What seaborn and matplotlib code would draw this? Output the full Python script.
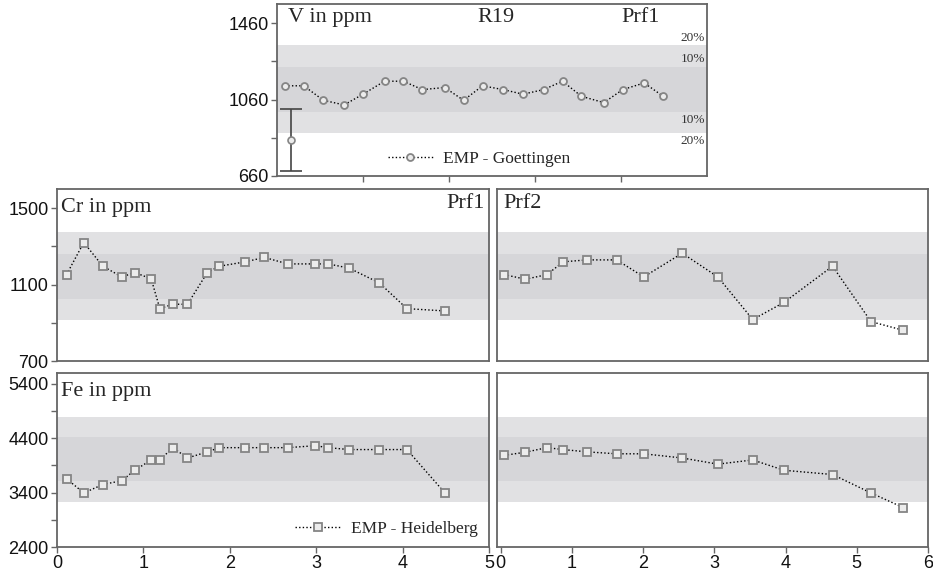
import matplotlib
matplotlib.use("Agg")
import matplotlib.pyplot as plt
import seaborn as sns
import pandas as pd

# ---------------- data ----------------
v_x = [0.09, 0.31, 0.54, 0.78, 1.00, 1.25, 1.47, 1.69, 1.95, 2.17,
       2.39, 2.63, 2.86, 3.10, 3.32, 3.54, 3.80, 4.02, 4.27, 4.49]
v_ppm = [1132, 1132, 1056, 1032, 1088, 1156, 1156, 1112, 1123, 1056,
         1132, 1112, 1088, 1112, 1156, 1077, 1044, 1112, 1147, 1077]
v_err_x = [0.16]
v_err_mid = [846]
v_err_lo = [684]
v_err_hi = [1013]

prf1_x = [0.11, 0.31, 0.53, 0.75, 0.90, 1.09, 1.19, 1.34, 1.51, 1.74,
          1.88, 2.18, 2.40, 2.67, 2.99, 3.14, 3.38, 3.73, 4.05, 4.49]
cr1_ppm = [1152, 1320, 1196, 1140, 1163, 1130, 974, 997, 997, 1163,
           1196, 1219, 1242, 1208, 1208, 1208, 1186, 1109, 974, 962]
fe1_ppm = [3656, 3394, 3549, 3620, 3811, 4001, 4001, 4227, 4037, 4150,
           4227, 4227, 4227, 4227, 4263, 4227, 4192, 4192, 4192, 3394]

prf2_x = [0.05, 0.35, 0.65, 0.88, 1.21, 1.63, 2.01, 2.55, 3.05, 3.54,
          3.98, 4.66, 5.20, 5.65]
cr2_ppm = [1152, 1128, 1152, 1219, 1229, 1229, 1140, 1264, 1140, 917,
           1007, 1196, 906, 861]
fe2_ppm = [4085, 4144, 4227, 4192, 4150, 4114, 4114, 4037, 3924, 4001,
           3811, 3733, 3394, 3126]

# band edges: lower 20%, lower 10%, upper 10%, upper 20%
v_bands = [885, 995, 1231, 1345]
cr_bands = [913, 1023, 1259, 1373]
fe_bands = [3227, 3608, 4418, 4787]

v_ticks = [660, 860, 1060, 1260, 1460]
v_ticklabels = ["660", "", "1060", "", "1460"]
cr_ticks = [700, 900, 1100, 1300, 1500]
cr_ticklabels = ["700", "", "1100", "", "1500"]
fe_ticks = [2400, 2900, 3400, 3900, 4400, 4900, 5400]
fe_ticklabels = ["2400", "", "3400", "", "4400", "", "5400"]

# ---------------- styling ----------------
sns.set_theme(style="ticks")
plt.rcParams['font.family'] = ['Liberation Sans', 'DejaVu Sans']
SERIF = ['Liberation Serif', 'DejaVu Serif']
SPINE = '#666666'
OUTER = '#e1e1e3'
INNER = '#d6d6d9'
MEC = '#858585'
MFC = '#ececec'

W, H = 933, 573
fig = plt.figure(figsize=(W / 100, H / 100), dpi=100)


def axes_px(l, t, r, b):
    return fig.add_axes([l / W, 1 - b / H, (r - l) / W, (b - t) / H])


def style_axes(ax):
    for s in ax.spines.values():
        s.set_color(SPINE)
        s.set_linewidth(1.3)
    ax.tick_params(direction='out', length=4, width=1, color=SPINE,
                   labelsize=13, labelcolor='#111111', pad=2)


def bands(ax, b):
    ax.axhspan(b[0], b[3], color=OUTER, zorder=0, lw=0)
    ax.axhspan(b[1], b[2], color=INNER, zorder=0.5, lw=0)


def series(ax, x, y, marker, ms, label=None):
    df = pd.DataFrame({"x": x, "y": y})
    sns.lineplot(data=df, x="x", y="y", ax=ax, sort=False, estimator=None,
                 color='black', lw=1.0, linestyle=(0, (1, 1.6)),
                 marker=marker, markersize=ms, markerfacecolor=MFC,
                 markeredgecolor=MEC, markeredgewidth=1.3, label=label,
                 zorder=3, legend=False)
    ax.set_xlabel("")
    ax.set_ylabel("")


# ---- top panel: V ----
axv = axes_px(277, 4, 707, 176)
bands(axv, v_bands)
series(axv, v_x, v_ppm, 'o', 5, label="EMP - Goettingen")
axv.errorbar(v_err_x, v_err_mid,
             yerr=[[v_err_mid[0] - v_err_lo[0]], [v_err_hi[0] - v_err_mid[0]]],
             fmt='o', ms=5, mfc=MFC, mec=MEC, mew=1.2, ecolor='#444444',
             elinewidth=1.2, capsize=8, capthick=1.2, zorder=4)
axv.set_xlim(0, 5)
axv.set_ylim(660, 1560)
axv.set_xticks([1, 2, 3, 4])
axv.set_xticklabels([])
axv.set_yticks(v_ticks)
axv.set_yticklabels(v_ticklabels)
style_axes(axv)
axv.text(0.025, 0.975, "V in ppm", transform=axv.transAxes, ha='left', va='top',
         fontsize=16, family=SERIF)
axv.text(0.51, 0.975, "R19", transform=axv.transAxes, ha='center', va='top',
         fontsize=16, family=SERIF)
axv.text(0.845, 0.975, "Prf1", transform=axv.transAxes, ha='center', va='top',
         fontsize=16, family=SERIF)
xr = 4.98
axv.text(xr, v_bands[3] + 8, "20%", ha='right', va='bottom', fontsize=9.5, family=SERIF, color='#333333')
axv.text(xr, v_bands[2] + 8, "10%", ha='right', va='bottom', fontsize=9.5, family=SERIF, color='#333333')
axv.text(xr, v_bands[1] - 8, "10%", ha='right', va='top', fontsize=9.5, family=SERIF, color='#333333')
axv.text(xr, v_bands[0] - 8, "20%", ha='right', va='top', fontsize=9.5, family=SERIF, color='#333333')
axv.legend(handles=[axv.get_lines()[0]], loc='lower center',
           bbox_to_anchor=(0.47, -0.04), frameon=False, handlelength=2.6,
           handletextpad=0.6, prop={'family': SERIF, 'size': 12.5})

# ---- Cr / Fe panels ----
axc1 = axes_px(57, 189, 489, 361)
axc2 = axes_px(497, 189, 928, 361)
axf1 = axes_px(57, 373, 489, 547)
axf2 = axes_px(497, 373, 928, 547)

for ax, x, y, b in [(axc1, prf1_x, cr1_ppm, cr_bands), (axc2, prf2_x, cr2_ppm, cr_bands),
                    (axf1, prf1_x, fe1_ppm, fe_bands), (axf2, prf2_x, fe2_ppm, fe_bands)]:
    bands(ax, b)
    lab = "EMP - Heidelberg" if ax is axf1 else None
    series(ax, x, y, 's', 6, label=lab)
    style_axes(ax)

for ax in (axc1, axc2):
    ax.set_ylim(700, 1600)
for ax in (axf1, axf2):
    ax.set_ylim(2400, 5600)
for ax in (axc1, axf1):
    ax.set_xlim(0, 5)
    ax.set_xticks([0, 1, 2, 3, 4, 5])
for ax in (axc2, axf2):
    ax.set_xlim(-0.05, 6)
    ax.set_xticks([0, 1, 2, 3, 4, 5, 6])
    ax.set_yticks([])

axc1.set_yticks(cr_ticks)
axc1.set_yticklabels(cr_ticklabels)
axf1.set_yticks(fe_ticks)
axf1.set_yticklabels(fe_ticklabels)
axc1.set_xticks([])
axc2.set_xticks([])

axc1.text(0.01, 0.95, "Cr in ppm", transform=axc1.transAxes, ha='left', va='top',
          fontsize=16, family=SERIF)
axc1.text(0.99, 0.97, "Prf1", transform=axc1.transAxes, ha='right', va='top',
          fontsize=16, family=SERIF)
axc2.text(0.015, 0.97, "Prf2", transform=axc2.transAxes, ha='left', va='top',
          fontsize=16, family=SERIF)
axf1.text(0.01, 0.95, "Fe in ppm", transform=axf1.transAxes, ha='left', va='top',
          fontsize=16, family=SERIF)
axf1.legend(handles=[axf1.get_lines()[0]], loc='lower right',
            bbox_to_anchor=(1.01, -0.03), frameon=False, handlelength=2.6,
            handletextpad=0.6, prop={'family': SERIF, 'size': 12.5})

fig.savefig("out.png", dpi=100)
